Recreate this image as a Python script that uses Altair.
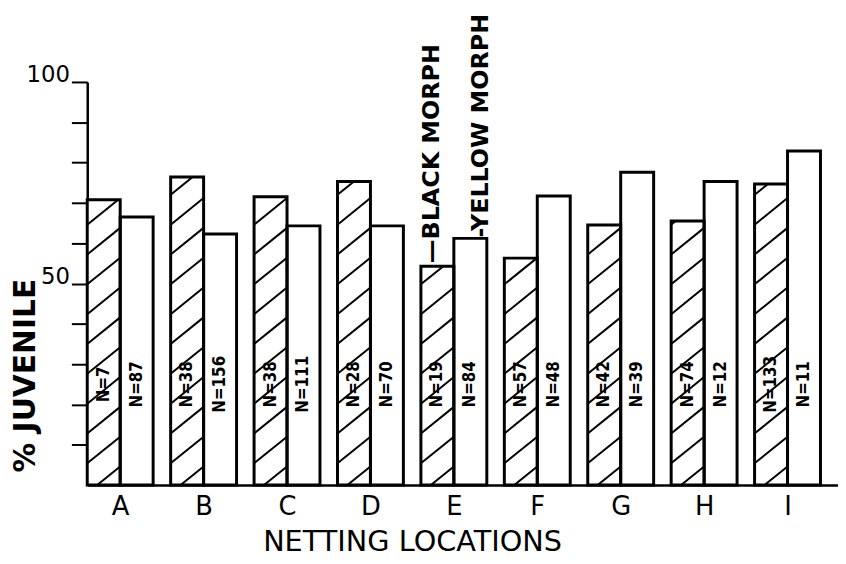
import json
import altair as alt
import pandas as pd

# ---------------- data ----------------
locations = ["A", "B", "C", "D", "E", "F", "G", "H", "I"]
black_pct = [70.8, 76.4, 71.5, 75.3, 54.3, 56.3, 64.5, 65.5, 74.7]
yellow_pct = [66.5, 62.3, 64.3, 64.3, 61.2, 71.7, 77.6, 75.3, 82.9]
black_n = [7, 38, 38, 28, 19, 57, 42, 74, 133]
yellow_n = [87, 156, 111, 70, 84, 48, 39, 12, 11]
morphs = ["BLACK MORPH", "YELLOW MORPH"]
legend_location = "E"
y_tick_values = [10, 20, 30, 40, 50, 60, 70, 80, 90, 100]
y_label_values = [50, 100]

# ---------------- layout / style constants ----------------
BAR_W = 0.395          # bar width as a fraction of one group step
HATCH_GAP = 7.4        # vertical spacing of hatch lines (data units)
HATCH_RISE = 6.6       # rise of one hatch line across the bar (data units)
N_LABEL_Y = 25         # where the N= labels sit (data units)
FONT = "DejaVu Sans"
NARROW = "Liberation Sans Narrow, DejaVu Sans Condensed, sans-serif"

rows = []
for i, loc in enumerate(locations):
    pairs = [(black_pct[i], black_n[i], morphs[0]), (yellow_pct[i], yellow_n[i], morphs[1])]
    for j, (pct, n, morph) in enumerate(pairs):
        x0 = i + j * BAR_W
        rows.append(dict(loc=loc, morph=morph, pct=pct, n=n, label=f"N={n}",
                         x0=x0, x1=x0 + BAR_W, xc=x0 + BAR_W / 2, hatched=(j == 0)))
bars = pd.DataFrame(rows)

# hatch segments, clipped to each black-morph bar
segs = []
for r in bars[bars.hatched].itertuples():
    k = -1
    while True:
        y0 = k * HATCH_GAP - 2.0
        if y0 > r.pct:
            break
        t0 = max(0.0, (0 - y0) / HATCH_RISE)
        t1 = min(1.0, (r.pct - y0) / HATCH_RISE)
        if t1 > t0:
            segs.append(dict(xa=r.x0 + BAR_W * t0, xb=r.x0 + BAR_W * t1,
                             ya=y0 + HATCH_RISE * t0, yb=y0 + HATCH_RISE * t1))
        k += 1
segs = pd.DataFrame(segs)

leg = bars[bars["loc"] == legend_location].copy()
leg_black = leg[leg.morph == morphs[0]].assign(txt="\u2014" + morphs[0])
leg_yellow = leg[leg.morph == morphs[1]].assign(txt="-" + morphs[1])

x_scale = alt.Scale(domain=[0, len(locations)], nice=False, zero=False)
y_scale = alt.Scale(domain=[0, 100], nice=False)

label_expr_x = f"{json.dumps(locations)}[round(datum.value - {BAR_W})]"
label_expr_y = f"indexof({json.dumps(y_label_values)}, datum.value) >= 0 ? datum.label : ''"

x_axis = alt.Axis(
    values=[i + BAR_W for i in range(len(locations))],
    labelExpr=label_expr_x, ticks=False, tickSize=0, grid=False,
    domainColor="black", domainWidth=2.5,
    labelFont=FONT, labelFontSize=26, labelColor="black",
    labelPadding=30, labelBaseline="alphabetic", labelFlush=False, labelOverlap=False,
    title="NETTING LOCATIONS", titleFont=FONT, titleFontSize=29, titleFontWeight="normal",
    titleColor="black", titleX=328, titleY=66, titleAlign="center", titleBaseline="alphabetic",
)
y_axis = alt.Axis(
    values=y_tick_values, labelExpr=label_expr_y, grid=False,
    tickSize=16, tickWidth=2, tickColor="black",
    domainColor="black", domainWidth=2.5,
    labelFont=FONT, labelFontSize=23, labelColor="black", labelAlign="right",
    labelBaseline="alphabetic", labelPadding=2, labelFlush=False, labelOverlap=False,
    title="% JUVENILE", titleFont=FONT, titleFontSize=30, titleFontWeight="bold",
    titleColor="black", titleAngle=270, titleX=-53, titleY=296, titleAlign="center",
    titleBaseline="alphabetic",
)

base = alt.Chart(bars)

fill = base.mark_rect(fill="white", strokeWidth=0).encode(
    x=alt.X("x0:Q", scale=x_scale, axis=x_axis),
    x2="x1:Q",
    y=alt.Y("pct:Q", scale=y_scale, axis=y_axis),
    y2=alt.datum(0),
)

hatch = alt.Chart(segs).mark_rule(stroke="black", strokeWidth=2).encode(
    x=alt.X("xa:Q", scale=x_scale), x2="xb:Q",
    y=alt.Y("ya:Q", scale=y_scale), y2="yb:Q",
)

outline = base.mark_rect(fillOpacity=0, stroke="black", strokeWidth=3).encode(
    x=alt.X("x0:Q", scale=x_scale), x2="x1:Q",
    y=alt.Y("pct:Q", scale=y_scale), y2=alt.datum(0),
)

nlabels = base.mark_text(angle=270, align="center", baseline="middle", font=NARROW,
                         fontSize=17, fontWeight="bold", color="black").encode(
    x=alt.X("xc:Q", scale=x_scale), y=alt.datum(N_LABEL_Y), text="label:N",
)

leg_b = alt.Chart(leg_black).mark_text(angle=270, align="left", baseline="middle", font=FONT,
                                       fontSize=24, fontWeight="bold", color="black",
                                       dx=3, dy=-5).encode(
    x=alt.X("xc:Q", scale=x_scale), y=alt.Y("pct:Q", scale=y_scale), text="txt:N",
)
leg_y = alt.Chart(leg_yellow).mark_text(angle=270, align="left", baseline="middle", font=FONT,
                                        fontSize=24, fontWeight="bold", color="black",
                                        dx=1, dy=11).encode(
    x=alt.X("xc:Q", scale=x_scale), y=alt.Y("pct:Q", scale=y_scale), text="txt:N",
)

chart = alt.layer(fill, hatch, outline, nlabels, leg_b, leg_y).properties(
    width=758, height=407,
    autosize=alt.AutoSizeParams(type="none"),
    padding={"left": 80, "top": 72, "right": 0, "bottom": 77},
    background="white",
).configure_view(strokeWidth=0)

chart.save("out.html", embed_options={"renderer": "svg", "actions": False})
